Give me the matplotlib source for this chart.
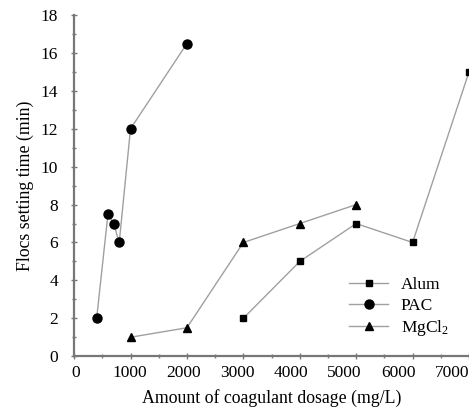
import matplotlib as mpl
mpl.use('Agg')
import matplotlib.pyplot as plt
import matplotlib.transforms as mtransforms
from matplotlib.ticker import MultipleLocator

plt.rcParams['font.family'] = ['Liberation Serif', 'DejaVu Serif']
plt.rcParams['mathtext.fontset'] = 'custom'
plt.rcParams['mathtext.rm'] = 'Liberation Serif'
plt.rcParams['mathtext.it'] = 'Liberation Serif:italic'

# data
alum_x = [3000, 4000, 5000, 6000, 7000]
alum_y = [2, 5, 7, 6, 15]
pac_x = [400, 600, 700, 800, 1000, 2000]
pac_y = [2, 7.5, 7, 6, 12, 16.5]
mg_x = [1000, 2000, 3000, 4000, 5000]
mg_y = [1, 1.5, 6, 7, 8]
xticks = [0, 1000, 2000, 3000, 4000, 5000, 6000, 7000]

fig = plt.figure(figsize=(4.69, 4.08), dpi=100)
ax = fig.add_axes([0.158, 0.127, 0.842, 0.836])

lc = '#a0a0a0'
ax.plot(alum_x, alum_y, '-s', color=lc, mfc='black', mec='black', ms=5, lw=1, label='Alum', clip_on=False)
ax.plot(pac_x, pac_y, '-o', color=lc, mfc='black', mec='black', ms=6.5, lw=1, label='PAC', clip_on=False)
ax.plot(mg_x, mg_y, '-^', color=lc, mfc='black', mec='black', ms=6, lw=1, label=r'MgCl$_2$')

ax.set_xlim(0, 7000)
ax.set_ylim(0, 18)
ax.set_xticks(xticks)
ax.xaxis.set_minor_locator(MultipleLocator(500))
ax.yaxis.set_major_locator(MultipleLocator(2))
ax.yaxis.set_minor_locator(MultipleLocator(1))

for s in ['top', 'right']:
    ax.spines[s].set_visible(False)
for s in ['left', 'bottom']:
    ax.spines[s].set_color('#777777')
    ax.spines[s].set_linewidth(1.6)
ax.tick_params(which='major', direction='inout', length=5, width=1, color='#777777', labelsize=12.5)
ax.tick_params(which='minor', direction='inout', length=3, width=1, color='#777777')
ax.tick_params(axis='y', which='major', pad=9)
ax.tick_params(axis='x', which='major', pad=4)

# the scanned labels drift a little to the left of their ticks
for v, lab in zip(xticks, ax.get_xticklabels()):
    dx = 1.5 - 2.6 * v / 1000
    lab.set_transform(lab.get_transform() + mtransforms.ScaledTranslation(dx / 100, 0, fig.dpi_scale_trans))

ax.set_xlabel('Amount of coagulant dosage (mg/L)', fontsize=12.8, labelpad=6)
ax.set_ylabel('Flocs setting time (min)', fontsize=12.8, labelpad=5)

ax.legend(loc='upper left', bbox_to_anchor=(0.695, 0.232), frameon=False, fontsize=12.5,
          handlelength=2.3, handletextpad=0.7, labelspacing=0.25, borderpad=0, borderaxespad=0)

fig.savefig('out.png', dpi=100)
